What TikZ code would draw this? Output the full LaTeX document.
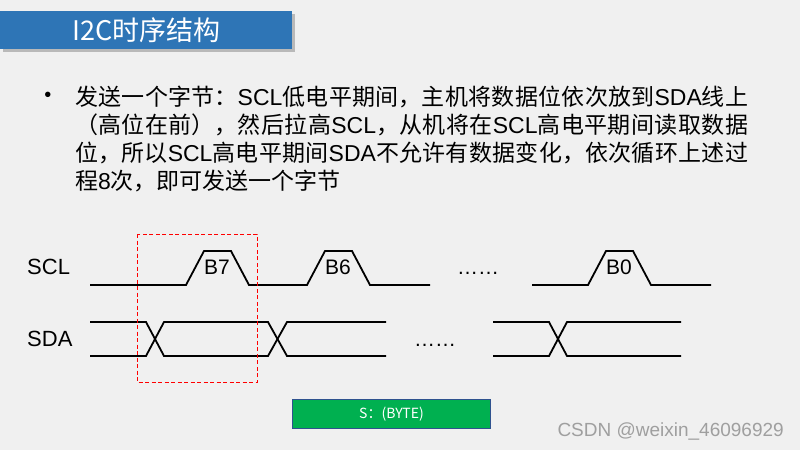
\documentclass[tikz,border=0pt]{standalone}
\usepackage{fontspec}
\setmainfont{Liberation Sans}
\newfontfamily\cjk{Noto Sans CJK SC}
\definecolor{titleblue}{HTML}{2E75B6}
\definecolor{bytegreen}{HTML}{00B050}
\definecolor{byteedge}{HTML}{2F528F}
\definecolor{slidebg}{HTML}{F0F0F0}

\begin{document}
\begin{tikzpicture}[x=1pt, y=-1pt,
    wave/.style={black, line width=1.8pt, line join=miter},
    siglabel/.style={font=\fontsize{22}{22}\selectfont, anchor=west, inner sep=0pt},
    bitlabel/.style={font=\fontsize{21}{21}\selectfont, inner sep=0pt},
    dotlabel/.style={font=\fontsize{21}{21}\selectfont, inner sep=0pt}]
    % Background
    \useasboundingbox[fill=slidebg] (0,0) rectangle (800,450);

    % Draw the title bar
    \fill[gray!55] (3,14) rectangle (295,52);
    \node[fill=titleblue, minimum width=292pt, minimum height=38pt, anchor=north west,
          inner sep=0pt, text=white, font=\cjk\fontsize{27}{27}\selectfont] (title) at (0,11) {I2C时序结构};

    % Bullet text
    \node[font=\fontsize{20}{20}\selectfont, inner sep=0pt] (bullet) at (48,97) {•};
    \node[anchor=north west, inner sep=0pt, text width=673pt, align=justify,
          font=\fontsize{23}{28}\selectfont] (body) at (75,86) {%
        \XeTeXlinebreaklocale "zh"\XeTeXlinebreakskip=0pt plus 2pt%
        {\cjk 发送一个字节：}SCL{\cjk 低电平期间，主机将数据位依次放到}SDA{\cjk 线上}\break
        {\cjk （高位在前），然后拉高}SCL{\cjk ，从机将在}SCL{\cjk 高电平期间读取数据}\break
        {\cjk 位，所以}SCL{\cjk 高电平期间}SDA{\cjk 不允许有数据变化，依次循环上述过}\break
        {\cjk 程}8{\cjk 次，即可发送一个字节}};

    % Signal names
    \node[siglabel] (scl) at (27,267) {SCL};
    \node[siglabel] (sda) at (27,339) {SDA};

    % Draw SCL
    \draw[wave] (90,285) \foreach \x in {186,307} { -- (\x,285) -- ++(18,-34) -- ++(27,0) -- ++(18,34) } -- (430,285);
    \draw[wave] (532,285) -- (588,285) -- ++(18,-34) -- ++(27,0) -- ++(18,34) -- (711,285);
    \foreach \x/\b in {186/B7, 307/B6, 588/B0}
        \node[bitlabel] (bit\b) at (\x+31,267) {\b};

    % Draw SDA
    \draw[wave] (90,322) -- (146,322) -- (164,356) -- (268,356) -- (287,322) -- (386,322);
    \draw[wave] (90,356) -- (146,356) -- (164,322) -- (268,322) -- (287,356) -- (386,356);
    \draw[wave] (493,322) -- (549,322) -- (567,356) -- (681,356);
    \draw[wave] (493,356) -- (549,356) -- (567,322) -- (681,322);

    \node[dotlabel] (scldots) at (478,273) {……};
    \node[dotlabel] (sdadots) at (435,345) {……};

    % Dashed frame round one bit
    \draw[red, line width=0.8pt, dash pattern=on 4pt off 2.5pt] (137,234) rectangle (257,382);

    % Byte box
    \node[fill=bytegreen, draw=byteedge, line width=0.8pt, minimum width=198pt, minimum height=29pt,
          inner sep=0pt, text=white, font=\cjk\fontsize{14}{14}\selectfont] (byte) at (391.5,414) {S：(BYTE)};

    \node[text=gray!75, font=\fontsize{19}{19}\selectfont, anchor=east, inner sep=0pt] (mark) at (784,431) {CSDN @weixin\_46096929};
\end{tikzpicture}
\end{document}
